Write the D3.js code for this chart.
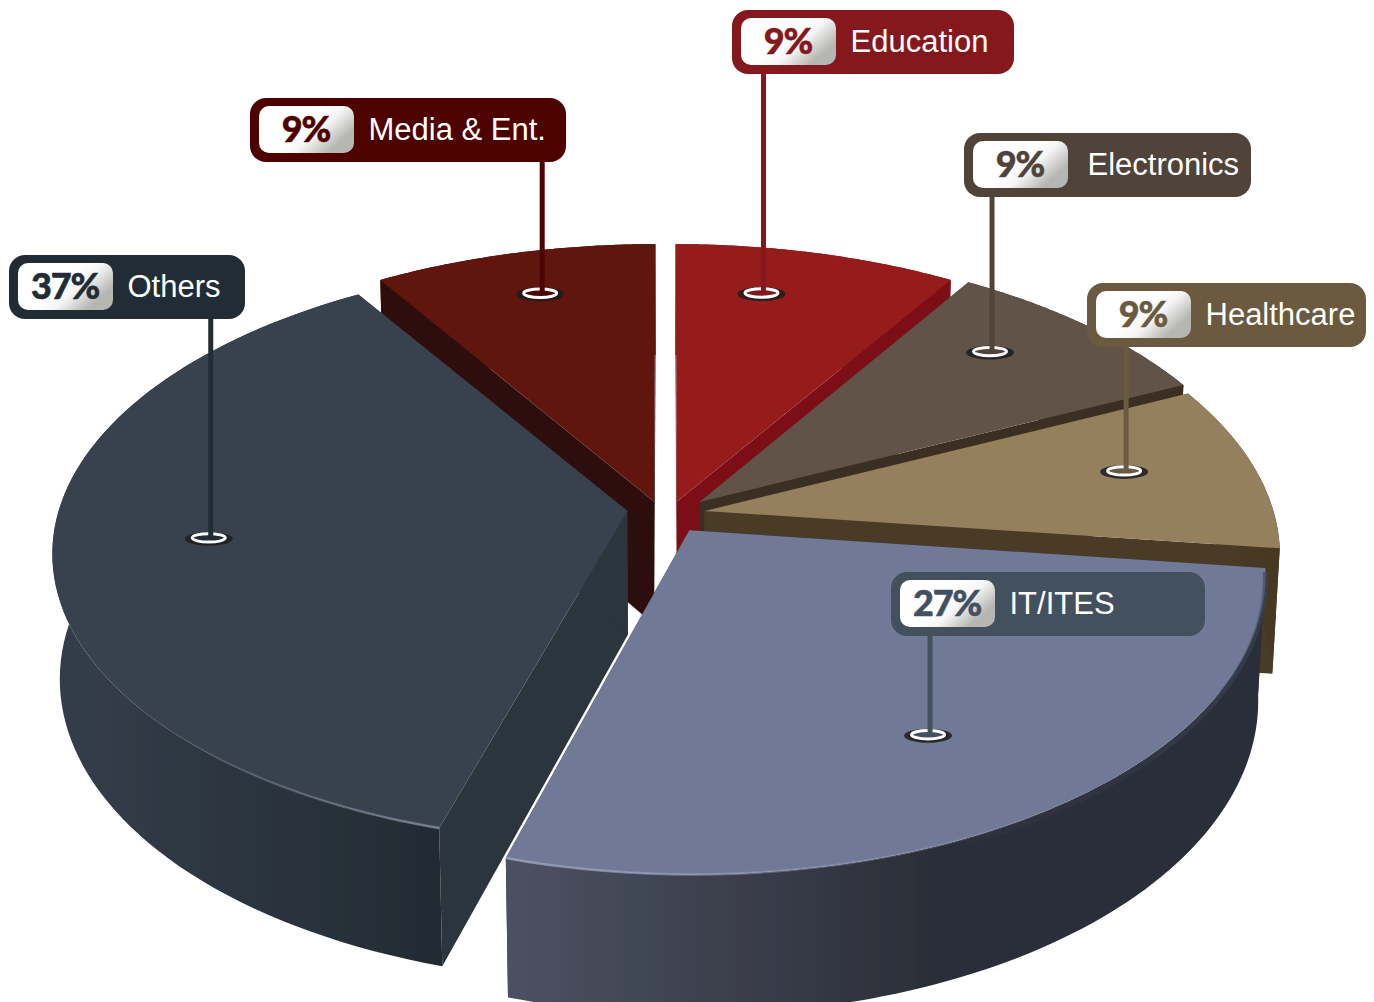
<!DOCTYPE html>
<html>
<head>
<meta charset="utf-8">
<script src="https://cdnjs.cloudflare.com/ajax/libs/d3/7.8.5/d3.min.js"></script>
<style>
  body { margin: 0; background: #fff; }
  svg { display: block; }
  .name { font-family: "Liberation Sans", Arial, sans-serif; font-size: 31px; fill: #fff; }
  .pct { font-family: Lato, sans-serif; font-weight: 900; font-size: 36px; text-anchor: middle; letter-spacing: -1.2px; stroke-width: 0.5px; }
</style>
</head>
<body>
<script>
const categories = ['Education', 'Electronics', 'Healthcare', 'IT/ITES', 'Others', 'Media & Ent.'];
const shares = [9, 9, 9, 27, 37, 9];

const topColors = ['#961d1f', '#625249', '#94805c', '#707a96', '#38434f', '#611510'];
const tagColors = ['#85181c', '#50433a', '#6b5a40', '#43515f', '#212c35', '#4e0200'];
const edgeColors = ['#7d1113', '#3b2f23', '#4a3b28', '#2f3340', '#2b343c', '#2f0f0b'];
const wallFrom = ['#7d1113', '#3b2f23', '#4c3d29', '#4c5162', '#343e4a', '#2f0f0b'];
const wallTo = ['#7d1113', '#3b2f23', '#463723', '#2c2f39', '#232b33', '#2f0f0b'];
const wallEnd = [1, 1, 1, 0.55, 1, 1];

// back to front, IT sits over everything
const drawOrder = [5, 0, 1, 2, 4, 3];

// how far each slice is pulled out of the middle, screen px, then its radius and depth squash
const pull = [[11.5, -3.5], [34, -3], [39, 6], [23.5, 25], [-38, 6], [-11.5, -3.5]];
const reach = [1.01, 1, 0.995, 0.988, 0.995, 1.01];
const squash = [1, 1, 1, 1, 0.98, 1];

// callout box [x, y, width], then marker on the slice [radius, degrees]
const boxes = [[732, 10, 282], [964, 133, 287], [1087, 283, 279], [891, 572, 314], [9, 255, 236], [250, 98, 316]];
const markers = [[0.812, 11.9], [0.785, 45], [0.762, 79.6], [0.727, 149.1], [0.728, 262.6], [0.825, 344.2]];

const width = 1374, height = 1002;

// camera: the pie is a tilted disc seen in perspective
const cx = 665.5, cy = 505, ax = 570, ay = 292, persp = 0.141, thick = 125, sink = 0.012;

function project(x, y, z) {
  const w = 1 + persp * y + sink * z;
  return [cx + ax * x / w, cy - ay * y / w + thick * z / w];
}

function rimPoint(i, angle, r, z) {
  const x0 = pull[i][0] / ax, y0 = -pull[i][1] / ay;
  return project(x0 + r * Math.sin(angle), y0 + r * squash[i] * Math.cos(angle), z);
}

const pie = d3.pie().sort(null).value(d => d);
const arcs = pie(shares);
// the IT / Others border sits a little past its true angle in the picture
arcs[3].endAngle += 2.1 * Math.PI / 180;
arcs[4].startAngle += 1.75 * Math.PI / 180;

const line = d3.line();

const svg = d3.select('body').append('svg').attr('width', width).attr('height', height);
const defs = svg.append('defs');

defs.append('filter').attr('id', 'soft')
  .append('feGaussianBlur').attr('stdDeviation', 0.6);

const pillGrad = defs.append('linearGradient').attr('id', 'pill')
  .attr('x1', 0.55).attr('y1', 0.25).attr('x2', 1).attr('y2', 0.5);
pillGrad.append('stop').attr('offset', 0).attr('stop-color', '#ffffff');
pillGrad.append('stop').attr('offset', 0.4).attr('stop-color', '#f6f6f6');
pillGrad.append('stop').attr('offset', 1).attr('stop-color', '#b6b6b3');

const pieG = svg.append('g').attr('filter', 'url(#soft)');

drawOrder.forEach(i => {
  const a = arcs[i];
  const g = pieG.append('g').attr('class', 'slice');
  const steps = d3.range(0, 81).map(k => a.startAngle + (a.endAngle - a.startAngle) * k / 80);

  const topArc = steps.map(t => rimPoint(i, t, reach[i], 0));
  const lowArc = steps.map(t => rimPoint(i, t, reach[i], 1));
  const xs = topArc.map(p => p[0]);

  const grad = defs.append('linearGradient').attr('id', 'wall' + i)
    .attr('gradientUnits', 'userSpaceOnUse')
    .attr('x1', d3.min(xs)).attr('x2', d3.max(xs)).attr('y1', 0).attr('y2', 0);
  grad.append('stop').attr('offset', 0).attr('stop-color', wallFrom[i]);
  grad.append('stop').attr('offset', wallEnd[i]).attr('stop-color', wallTo[i]);

  // flat cut faces
  [a.startAngle, a.endAngle].forEach(t => {
    g.append('path')
      .attr('d', line([rimPoint(i, 0, 0, 0), rimPoint(i, t, reach[i], 0), rimPoint(i, t, reach[i], 1), rimPoint(i, 0, 0, 1)]) + 'Z')
      .attr('fill', edgeColors[i]);
  });

  // outer wall
  g.append('path')
    .attr('d', line(topArc.concat(lowArc.slice().reverse())) + 'Z')
    .attr('fill', 'url(#wall' + i + ')');

  // top face
  g.append('path')
    .attr('d', line([rimPoint(i, 0, 0, 0)].concat(topArc)) + 'Z')
    .attr('fill', topColors[i]);
});

// bluish shade just under the IT rim on its right side, fading out toward the front
const shade = d3.range(0, 41).map(k => {
  const t = arcs[3].startAngle + (arcs[3].endAngle - arcs[3].startAngle) * 0.6 * k / 40;
  return rimPoint(3, t, reach[3], 0.03);
});
const shadeGrad = defs.append('linearGradient').attr('id', 'shade')
  .attr('gradientUnits', 'userSpaceOnUse')
  .attr('x1', shade[0][0]).attr('y1', shade[0][1]).attr('x2', shade[40][0]).attr('y2', shade[40][1]);
shadeGrad.append('stop').attr('offset', 0).attr('stop-color', '#37485a').attr('stop-opacity', 0.6);
shadeGrad.append('stop').attr('offset', 1).attr('stop-color', '#37485a').attr('stop-opacity', 0);
pieG.append('path').attr('d', line(shade)).attr('fill', 'none')
  .attr('stroke', 'url(#shade)').attr('stroke-width', 5);

// pale glint along the near rim of the two big slices
[[3, 0.55, '#98a0b8'], [4, 0.22, '#7b8592']].forEach(([i, part, color]) => {
  const a = arcs[i];
  const from = i === 3 ? a.endAngle : a.startAngle;
  const to = i === 3 ? a.endAngle - (a.endAngle - a.startAngle) * part : a.startAngle + (a.endAngle - a.startAngle) * part;
  const pts = d3.range(0, 31).map(k => rimPoint(i, from + (to - from) * k / 30, reach[i], 0));
  const grad = defs.append('linearGradient').attr('id', 'glint' + i)
    .attr('gradientUnits', 'userSpaceOnUse')
    .attr('x1', pts[0][0]).attr('y1', pts[0][1]).attr('x2', pts[30][0]).attr('y2', pts[30][1]);
  grad.append('stop').attr('offset', 0).attr('stop-color', color).attr('stop-opacity', 0.9);
  grad.append('stop').attr('offset', 1).attr('stop-color', color).attr('stop-opacity', 0);
  pieG.append('path').attr('d', line(pts)).attr('fill', 'none')
    .attr('stroke', 'url(#glint' + i + ')').attr('stroke-width', 2.5);
});

// callouts go over the pie
categories.forEach((name, i) => {
  const g = svg.append('g').attr('class', 'callout');
  const [bx, by, bw] = boxes[i];
  const [mr, deg] = markers[i];
  const m = rimPoint(i, deg * Math.PI / 180, mr, 0);

  g.append('ellipse').attr('cx', m[0]).attr('cy', m[1] + 0.5).attr('rx', 24).attr('ry', 7).attr('fill', '#1c1c1e').attr('opacity', 0.85);
  g.append('ellipse').attr('cx', m[0]).attr('cy', m[1] - 0.5).attr('rx', 16.5).attr('ry', 4.2)
    .attr('fill', tagColors[i]).attr('stroke', '#fff').attr('stroke-width', 3);

  g.append('rect').attr('x', m[0] - 0.5).attr('y', by + 60).attr('width', 5).attr('height', m[1] - by - 60)
    .attr('fill', tagColors[i]);

  g.append('rect').attr('x', bx).attr('y', by).attr('width', bw).attr('height', 64).attr('rx', 16)
    .attr('fill', tagColors[i]);
  g.append('rect').attr('x', bx + 9).attr('y', by + 8).attr('width', 95).attr('height', 47).attr('rx', 10)
    .attr('fill', 'url(#pill)');
  g.append('text').attr('class', 'pct').attr('x', bx + 56).attr('y', by + 44)
    .attr('fill', tagColors[i]).attr('stroke', tagColors[i]).text(shares[i] + '%');
  g.append('text').attr('class', 'name').attr('x', bx + (i === 1 ? 123.5 : 118.5)).attr('y', by + 42).text(name);
});
</script>
</body>
</html>
